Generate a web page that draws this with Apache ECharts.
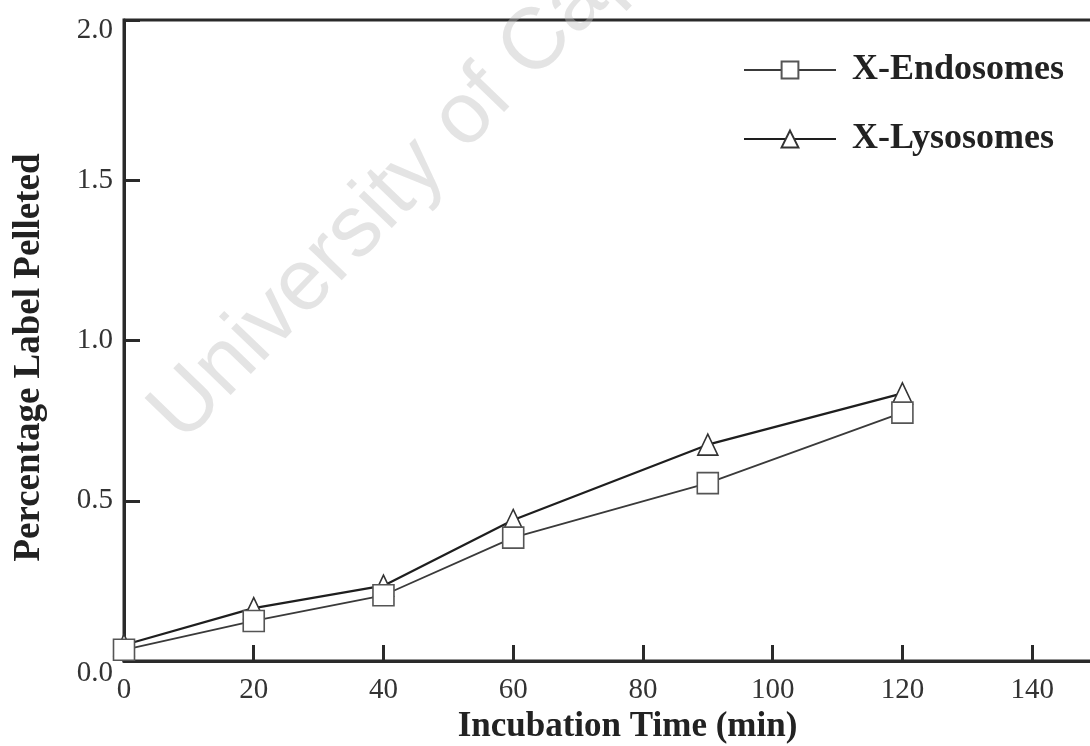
<!DOCTYPE html>
<html>
<head>
<meta charset="utf-8">
<script src="https://cdn.jsdelivr.net/npm/echarts@6/dist/echarts.min.js"></script>
<style>
  html, body { margin: 0; padding: 0; background: #fff; }
  #chart { width: 1090px; height: 746px; }
</style>
</head>
<body>
<div id="chart"></div>
<script>
// Incubation times (min)
const times = [0, 20, 40, 60, 90, 120];
// Percentage of label pelleted
const endosomes = [0.035, 0.125, 0.205, 0.385, 0.555, 0.775];
const lysosomes = [0.05, 0.165, 0.235, 0.44, 0.675, 0.835];
const seriesNames = ['X-Endosomes', 'X-Lysosomes'];
const xTitle = 'Incubation Time (min)';
const yTitle = 'Percentage Label Pelleted';
const watermark = 'University of Cape Town';

const serif = '"Liberation Serif", "Times New Roman", serif';
const pair = (xs, ys) => xs.map((x, i) => [x, ys[i]]);

const chart = echarts.init(document.getElementById('chart'), null, { renderer: 'canvas' });

chart.setOption({
  backgroundColor: '#fff',
  animation: false,
  grid: {
    left: 124, width: 973, top: 20, height: 641,
    outerBoundsMode: 'none',
    containLabel: false,
    show: true, borderColor: '#2a2a2a', borderWidth: 3, backgroundColor: 'transparent'
  },
  legend: {
    orient: 'vertical',
    left: 738, top: 47,
    itemWidth: 92, itemHeight: 21, itemGap: 33,
    data: seriesNames,
    textStyle: {
      fontFamily: serif, fontWeight: 'bold', fontSize: 36, color: '#222',
      padding: [0, 0, 0, 11]
    }
  },
  xAxis: {
    type: 'value', min: 0, max: 150, interval: 20,
    name: xTitle, nameLocation: 'middle', nameGap: 41,
    nameTextStyle: {
      fontFamily: serif, fontWeight: 'bold', fontSize: 35, color: '#222',
      padding: [0, 0, 0, 34]
    },
    axisLine: { show: true, onZero: false, lineStyle: { color: '#2a2a2a', width: 3 } },
    axisTick: { show: true, inside: true, length: 16, lineStyle: { color: '#2a2a2a', width: 3 } },
    axisLabel: {
      fontFamily: serif, fontSize: 29, color: '#333', margin: 15,
      showMaxLabel: false,
      formatter: v => (v % 20 === 0 ? String(v) : '')
    },
    splitLine: { show: false }
  },
  yAxis: {
    type: 'value', min: 0, max: 2, interval: 0.5,
    name: yTitle, nameLocation: 'middle', nameGap: 76,
    nameTextStyle: {
      fontFamily: serif, fontWeight: 'bold', fontSize: 37, color: '#222',
      padding: [0, 34, 0, 0]
    },
    axisLine: { show: true, onZero: false, lineStyle: { color: '#2a2a2a', width: 3 } },
    axisTick: { show: true, inside: true, length: 16, lineStyle: { color: '#2a2a2a', width: 3 } },
    axisLabel: {
      fontFamily: serif, fontSize: 29, color: '#333', margin: 11,
      formatter: v => {
        const s = v.toFixed(1);
        if (v === 0) return '{lo|' + s + '}';
        if (v === 2) return '{hi|' + s + '}';
        return s;
      },
      rich: {
        lo: { fontFamily: serif, fontSize: 29, color: '#333', padding: [24, 0, 0, 0] },
        hi: { fontFamily: serif, fontSize: 29, color: '#333', padding: [20, 0, 0, 0] }
      }
    },
    splitLine: { show: false }
  },
  series: [
    {
      name: seriesNames[1],
      type: 'line',
      data: pair(times, lysosomes),
      symbol: 'triangle',
      symbolSize: [20, 21],
      lineStyle: { color: '#1e1e1e', width: 2.2 },
      itemStyle: { color: '#fff', borderColor: '#333', borderWidth: 1.6 },
      z: 3
    },
    {
      name: seriesNames[0],
      type: 'line',
      data: pair(times, endosomes),
      symbol: 'rect',
      symbolSize: 21,
      lineStyle: { color: '#3a3a3a', width: 1.8 },
      itemStyle: { color: '#fff', borderColor: '#555', borderWidth: 1.6 },
      z: 4
    }
  ],
  graphic: [
    {
      type: 'text',
      x: 197, y: 458,
      rotation: 46 * Math.PI / 180,
      z: 100,
      silent: true,
      style: {
        text: watermark,
        font: '87px "Liberation Sans", Arial, sans-serif',
        fill: 'rgba(190,190,190,0.42)',
        textAlign: 'left',
        textVerticalAlign: 'bottom'
      }
    }
  ]
});
</script>
</body>
</html>
